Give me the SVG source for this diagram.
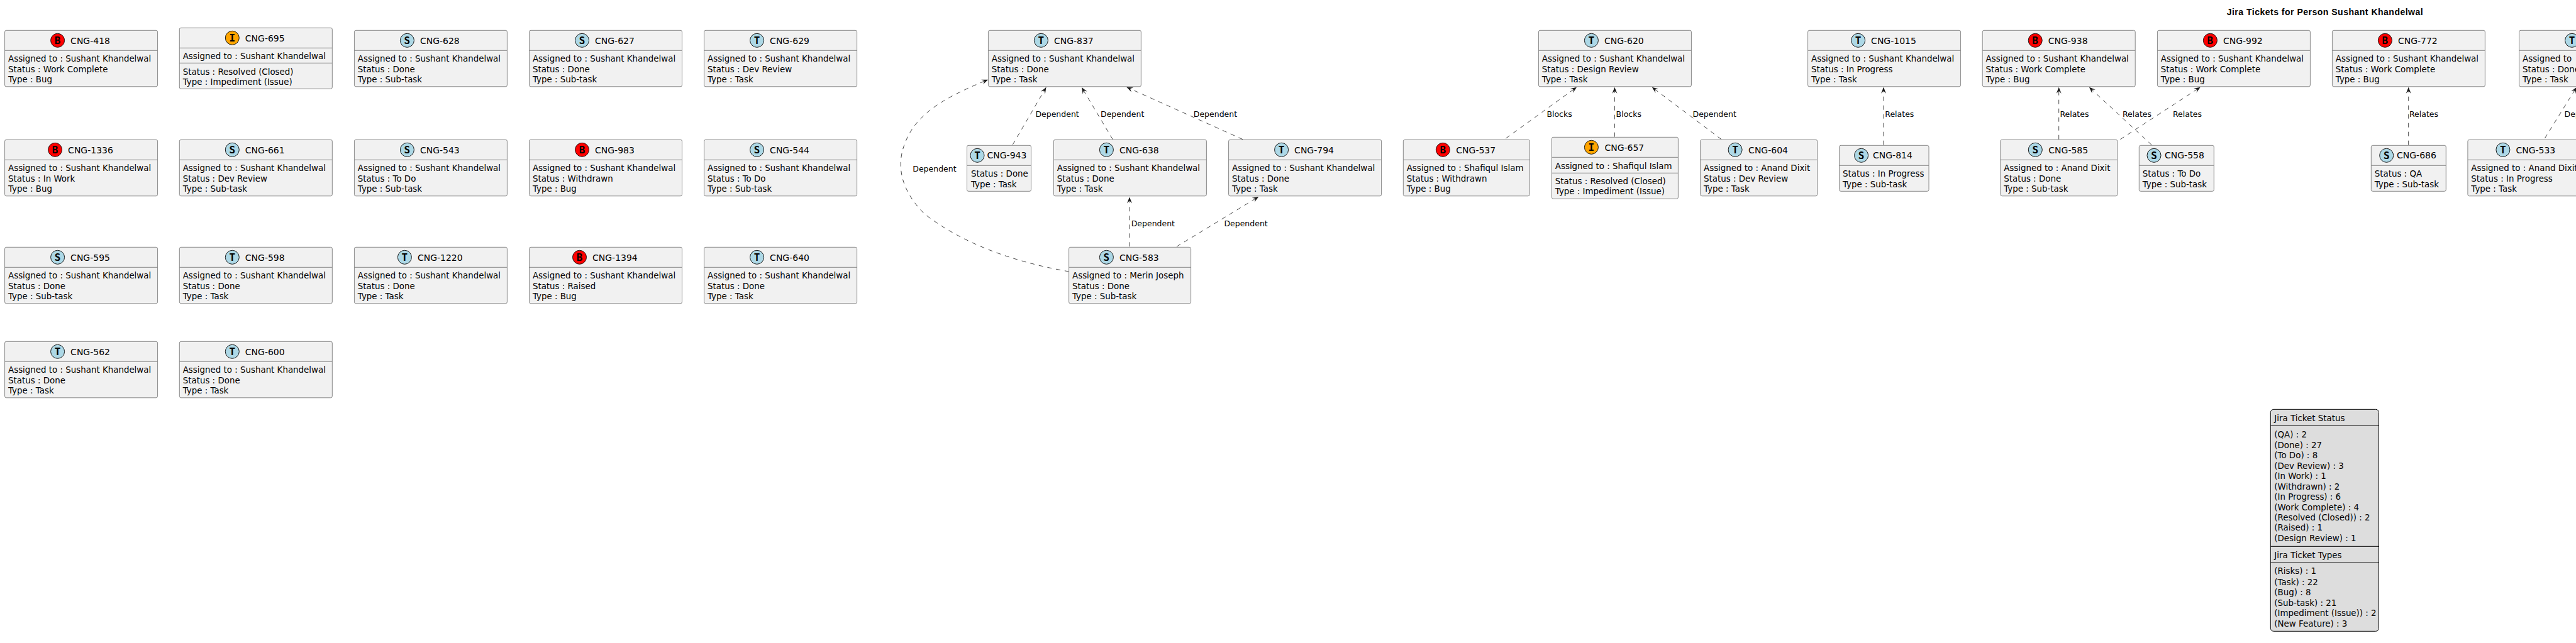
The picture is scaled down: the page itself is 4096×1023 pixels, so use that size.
<svg xmlns="http://www.w3.org/2000/svg" width="4096" height="1023" viewBox="0 0 4096 1023">
<style>
text{font-family:"DejaVu Sans","Liberation Sans",sans-serif;fill:#000}
.t{font-size:13.4px}
.n{font-size:14px}
.e{font-size:12.5px}
.h{font-family:"Liberation Sans",Arial,sans-serif;font-size:14px;font-weight:bold;letter-spacing:.5px}
.m{font-size:13.4px}
.l{font-family:"DejaVu Sans Mono","Liberation Mono",monospace;font-size:16px;font-weight:bold;text-anchor:middle}
.b{fill:#F1F1F1;stroke:#888;stroke-width:1}
.d{stroke:#888;stroke-width:1}
.cb{fill:#FF0000;stroke:#181818;stroke-width:1}
.ci{fill:#FFA500;stroke:#181818;stroke-width:1}
.cs{fill:#ADD8E6;stroke:#181818;stroke-width:1}
.c{fill:none;stroke:#181818;stroke-width:.8;stroke-dasharray:7 7;marker-end:url(#a)}
.lg{fill:#DDD;stroke:#000;stroke-width:1}
.ll{stroke:#000;stroke-width:1}
</style>
<defs>
<marker id="a" markerUnits="userSpaceOnUse" markerWidth="12" markerHeight="12" refX="11" refY="6" orient="auto" overflow="visible"><path d="M11,6 L1,2 L5,6 L1,10 Z" fill="#181818"/></marker>
</defs>
<rect width="4096" height="1023" fill="#fff"/>
<text class="h" x="3540.7" y="24">Jira Tickets for Person Sushant Khandelwal</text>

<g id="connectors">
<line class="c" x1="1610.3" y1="230" x2="1663.4" y2="139"/>
<line class="c" x1="1769.2" y1="221.7" x2="1720" y2="139"/>
<line class="c" x1="1975.9" y1="221.7" x2="1791.5" y2="138.7"/>
<path class="c" d="M1699.6,432 C1630,420 1540,395 1469.6,340 C1430,300 1425,260 1440,225 C1460,175 1515,150 1571,126.7"/>
<line class="c" x1="1796" y1="392.3" x2="1796" y2="313.5"/>
<line class="c" x1="1871" y1="392.3" x2="2001.3" y2="313"/>
<line class="c" x1="2394.6" y1="220" x2="2507" y2="138.7"/>
<line class="c" x1="2567.4" y1="217.7" x2="2567.4" y2="138.7"/>
<line class="c" x1="2737" y1="221.7" x2="2626.8" y2="138.7"/>
<line class="c" x1="2995" y1="230.7" x2="2995" y2="138.7"/>
<line class="c" x1="3273.7" y1="221.7" x2="3273.7" y2="138.7"/>
<line class="c" x1="3421.4" y1="230.7" x2="3321.9" y2="138.7"/>
<line class="c" x1="3371.4" y1="221.7" x2="3498.7" y2="138.7"/>
<line class="c" x1="3829.7" y1="230.7" x2="3829.7" y2="138.7"/>
<line class="c" x1="4046.4" y1="220" x2="4097" y2="138.7"/>
<text class="e" x="1646.4" y="185.7">Dependent</text>
<text class="e" x="1750" y="185.7">Dependent</text>
<text class="e" x="1897.8" y="185.7">Dependent</text>
<text class="e" x="1451.3" y="272.7">Dependent</text>
<text class="e" x="1798.7" y="359.7">Dependent</text>
<text class="e" x="1946.4" y="359.7">Dependent</text>
<text class="e" x="2459.4" y="185.7">Blocks</text>
<text class="e" x="2569.6" y="185.7">Blocks</text>
<text class="e" x="2691.5" y="185.7">Dependent</text>
<text class="e" x="2997.3" y="185.7">Relates</text>
<text class="e" x="3275.4" y="185.7">Relates</text>
<text class="e" x="3375" y="185.7">Relates</text>
<text class="e" x="3455" y="185.7">Relates</text>
<text class="e" x="3831" y="185.7">Relates</text>
<text class="e" x="4077.6" y="185.7">Dependent</text>
</g>

<g id="CNG-418" transform="translate(7.6,48.3)"><rect class="b" width="243" height="89.5" rx="2.5"/><line class="d" x2="243" y1="32" y2="32"/><circle class="cb" cx="84" cy="16" r="11"/><text class="l" x="84" y="21.8">B</text><text class="n" x="104.5" y="22">CNG-418</text><text class="t" x="5.4" y="50">Assigned to : Sushant Khandelwal</text><text class="t" x="5.4" y="66.5">Status : Work Complete</text><text class="t" x="5.4" y="83">Type : Bug</text></g>
<g id="CNG-695" transform="translate(285.3,44.3)"><rect class="b" width="243" height="97" rx="2.5"/><line class="d" x2="243" y1="32" y2="32"/><line class="d" x2="243" y1="56" y2="56"/><circle class="ci" cx="84" cy="16" r="11"/><text class="l" x="84" y="21.8">I</text><text class="n" x="104.5" y="22">CNG-695</text><text class="t" x="5.4" y="50">Assigned to : Sushant Khandelwal</text><text class="t" x="5.4" y="75">Status : Resolved (Closed)</text><text class="t" x="5.4" y="91">Type : Impediment (Issue)</text></g>
<g id="CNG-628" transform="translate(563.4,48.3)"><rect class="b" width="243" height="89.5" rx="2.5"/><line class="d" x2="243" y1="32" y2="32"/><circle class="cs" cx="84" cy="16" r="11"/><text class="l" x="84" y="21.8">S</text><text class="n" x="104.5" y="22">CNG-628</text><text class="t" x="5.4" y="50">Assigned to : Sushant Khandelwal</text><text class="t" x="5.4" y="66.5">Status : Done</text><text class="t" x="5.4" y="83">Type : Sub-task</text></g>
<g id="CNG-627" transform="translate(841.5,48.3)"><rect class="b" width="243" height="89.5" rx="2.5"/><line class="d" x2="243" y1="32" y2="32"/><circle class="cs" cx="84" cy="16" r="11"/><text class="l" x="84" y="21.8">S</text><text class="n" x="104.5" y="22">CNG-627</text><text class="t" x="5.4" y="50">Assigned to : Sushant Khandelwal</text><text class="t" x="5.4" y="66.5">Status : Done</text><text class="t" x="5.4" y="83">Type : Sub-task</text></g>
<g id="CNG-629" transform="translate(1119.6,48.3)"><rect class="b" width="243" height="89.5" rx="2.5"/><line class="d" x2="243" y1="32" y2="32"/><circle class="cs" cx="84" cy="16" r="11"/><text class="l" x="84" y="21.8">T</text><text class="n" x="104.5" y="22">CNG-629</text><text class="t" x="5.4" y="50">Assigned to : Sushant Khandelwal</text><text class="t" x="5.4" y="66.5">Status : Dev Review</text><text class="t" x="5.4" y="83">Type : Task</text></g>

<g id="CNG-1336" transform="translate(7.6,222.3)"><rect class="b" width="243" height="89.5" rx="2.5"/><line class="d" x2="243" y1="32" y2="32"/><circle class="cb" cx="80" cy="16" r="11"/><text class="l" x="80" y="21.8">B</text><text class="n" x="100.5" y="22">CNG-1336</text><text class="t" x="5.4" y="50">Assigned to : Sushant Khandelwal</text><text class="t" x="5.4" y="66.5">Status : In Work</text><text class="t" x="5.4" y="83">Type : Bug</text></g>
<g id="CNG-661" transform="translate(285.3,222.3)"><rect class="b" width="243" height="89.5" rx="2.5"/><line class="d" x2="243" y1="32" y2="32"/><circle class="cs" cx="84" cy="16" r="11"/><text class="l" x="84" y="21.8">S</text><text class="n" x="104.5" y="22">CNG-661</text><text class="t" x="5.4" y="50">Assigned to : Sushant Khandelwal</text><text class="t" x="5.4" y="66.5">Status : Dev Review</text><text class="t" x="5.4" y="83">Type : Sub-task</text></g>
<g id="CNG-543" transform="translate(563.4,222.3)"><rect class="b" width="243" height="89.5" rx="2.5"/><line class="d" x2="243" y1="32" y2="32"/><circle class="cs" cx="84" cy="16" r="11"/><text class="l" x="84" y="21.8">S</text><text class="n" x="104.5" y="22">CNG-543</text><text class="t" x="5.4" y="50">Assigned to : Sushant Khandelwal</text><text class="t" x="5.4" y="66.5">Status : To Do</text><text class="t" x="5.4" y="83">Type : Sub-task</text></g>
<g id="CNG-983" transform="translate(841.5,222.3)"><rect class="b" width="243" height="89.5" rx="2.5"/><line class="d" x2="243" y1="32" y2="32"/><circle class="cb" cx="84" cy="16" r="11"/><text class="l" x="84" y="21.8">B</text><text class="n" x="104.5" y="22">CNG-983</text><text class="t" x="5.4" y="50">Assigned to : Sushant Khandelwal</text><text class="t" x="5.4" y="66.5">Status : Withdrawn</text><text class="t" x="5.4" y="83">Type : Bug</text></g>
<g id="CNG-544" transform="translate(1119.6,222.3)"><rect class="b" width="243" height="89.5" rx="2.5"/><line class="d" x2="243" y1="32" y2="32"/><circle class="cs" cx="84" cy="16" r="11"/><text class="l" x="84" y="21.8">S</text><text class="n" x="104.5" y="22">CNG-544</text><text class="t" x="5.4" y="50">Assigned to : Sushant Khandelwal</text><text class="t" x="5.4" y="66.5">Status : To Do</text><text class="t" x="5.4" y="83">Type : Sub-task</text></g>

<g id="CNG-595" transform="translate(7.6,393.3)"><rect class="b" width="243" height="89.5" rx="2.5"/><line class="d" x2="243" y1="32" y2="32"/><circle class="cs" cx="84" cy="16" r="11"/><text class="l" x="84" y="21.8">S</text><text class="n" x="104.5" y="22">CNG-595</text><text class="t" x="5.4" y="50">Assigned to : Sushant Khandelwal</text><text class="t" x="5.4" y="66.5">Status : Done</text><text class="t" x="5.4" y="83">Type : Sub-task</text></g>
<g id="CNG-598" transform="translate(285.3,393.3)"><rect class="b" width="243" height="89.5" rx="2.5"/><line class="d" x2="243" y1="32" y2="32"/><circle class="cs" cx="84" cy="16" r="11"/><text class="l" x="84" y="21.8">T</text><text class="n" x="104.5" y="22">CNG-598</text><text class="t" x="5.4" y="50">Assigned to : Sushant Khandelwal</text><text class="t" x="5.4" y="66.5">Status : Done</text><text class="t" x="5.4" y="83">Type : Task</text></g>
<g id="CNG-1220" transform="translate(563.4,393.3)"><rect class="b" width="243" height="89.5" rx="2.5"/><line class="d" x2="243" y1="32" y2="32"/><circle class="cs" cx="80" cy="16" r="11"/><text class="l" x="80" y="21.8">T</text><text class="n" x="100.5" y="22">CNG-1220</text><text class="t" x="5.4" y="50">Assigned to : Sushant Khandelwal</text><text class="t" x="5.4" y="66.5">Status : Done</text><text class="t" x="5.4" y="83">Type : Task</text></g>
<g id="CNG-1394" transform="translate(841.5,393.3)"><rect class="b" width="243" height="89.5" rx="2.5"/><line class="d" x2="243" y1="32" y2="32"/><circle class="cb" cx="80" cy="16" r="11"/><text class="l" x="80" y="21.8">B</text><text class="n" x="100.5" y="22">CNG-1394</text><text class="t" x="5.4" y="50">Assigned to : Sushant Khandelwal</text><text class="t" x="5.4" y="66.5">Status : Raised</text><text class="t" x="5.4" y="83">Type : Bug</text></g>
<g id="CNG-640" transform="translate(1119.6,393.3)"><rect class="b" width="243" height="89.5" rx="2.5"/><line class="d" x2="243" y1="32" y2="32"/><circle class="cs" cx="84" cy="16" r="11"/><text class="l" x="84" y="21.8">T</text><text class="n" x="104.5" y="22">CNG-640</text><text class="t" x="5.4" y="50">Assigned to : Sushant Khandelwal</text><text class="t" x="5.4" y="66.5">Status : Done</text><text class="t" x="5.4" y="83">Type : Task</text></g>

<g id="CNG-562" transform="translate(7.6,543.3)"><rect class="b" width="243" height="89.5" rx="2.5"/><line class="d" x2="243" y1="32" y2="32"/><circle class="cs" cx="84" cy="16" r="11"/><text class="l" x="84" y="21.8">T</text><text class="n" x="104.5" y="22">CNG-562</text><text class="t" x="5.4" y="50">Assigned to : Sushant Khandelwal</text><text class="t" x="5.4" y="66.5">Status : Done</text><text class="t" x="5.4" y="83">Type : Task</text></g>
<g id="CNG-600" transform="translate(285.3,543.3)"><rect class="b" width="243" height="89.5" rx="2.5"/><line class="d" x2="243" y1="32" y2="32"/><circle class="cs" cx="84" cy="16" r="11"/><text class="l" x="84" y="21.8">T</text><text class="n" x="104.5" y="22">CNG-600</text><text class="t" x="5.4" y="50">Assigned to : Sushant Khandelwal</text><text class="t" x="5.4" y="66.5">Status : Done</text><text class="t" x="5.4" y="83">Type : Task</text></g>

<g id="CNG-837" transform="translate(1571.4,48.3)"><rect class="b" width="243" height="89.5" rx="2.5"/><line class="d" x2="243" y1="32" y2="32"/><circle class="cs" cx="84" cy="16" r="11"/><text class="l" x="84" y="21.8">T</text><text class="n" x="104.5" y="22">CNG-837</text><text class="t" x="5.4" y="50">Assigned to : Sushant Khandelwal</text><text class="t" x="5.4" y="66.5">Status : Done</text><text class="t" x="5.4" y="83">Type : Task</text></g>
<g id="CNG-943" transform="translate(1537.5,231.3)"><rect class="b" width="102" height="73" rx="2.5"/><line class="d" x2="102" y1="32" y2="32"/><circle class="cs" cx="16.5" cy="16" r="11"/><text class="l" x="16.5" y="21.8">T</text><text class="n" x="32" y="21">CNG-943</text><text class="t" x="6.4" y="50">Status : Done</text><text class="t" x="6.4" y="66.5">Type : Task</text></g>
<g id="CNG-638" transform="translate(1675.4,222.3)"><rect class="b" width="243" height="89.5" rx="2.5"/><line class="d" x2="243" y1="32" y2="32"/><circle class="cs" cx="84" cy="16" r="11"/><text class="l" x="84" y="21.8">T</text><text class="n" x="104.5" y="22">CNG-638</text><text class="t" x="5.4" y="50">Assigned to : Sushant Khandelwal</text><text class="t" x="5.4" y="66.5">Status : Done</text><text class="t" x="5.4" y="83">Type : Task</text></g>
<g id="CNG-794" transform="translate(1953.6,222.3)"><rect class="b" width="243" height="89.5" rx="2.5"/><line class="d" x2="243" y1="32" y2="32"/><circle class="cs" cx="84" cy="16" r="11"/><text class="l" x="84" y="21.8">T</text><text class="n" x="104.5" y="22">CNG-794</text><text class="t" x="5.4" y="50">Assigned to : Sushant Khandelwal</text><text class="t" x="5.4" y="66.5">Status : Done</text><text class="t" x="5.4" y="83">Type : Task</text></g>
<g id="CNG-583" transform="translate(1699.6,393.3)"><rect class="b" width="194" height="89.5" rx="2.5"/><line class="d" x2="194" y1="32" y2="32"/><circle class="cs" cx="59.8" cy="16" r="11"/><text class="l" x="59.8" y="21.8">S</text><text class="n" x="80.3" y="22">CNG-583</text><text class="t" x="5.4" y="50">Assigned to : Merin Joseph</text><text class="t" x="5.4" y="66.5">Status : Done</text><text class="t" x="5.4" y="83">Type : Sub-task</text></g>

<g id="CNG-620" transform="translate(2446.4,48.3)"><rect class="b" width="243" height="89.5" rx="2.5"/><line class="d" x2="243" y1="32" y2="32"/><circle class="cs" cx="84" cy="16" r="11"/><text class="l" x="84" y="21.8">T</text><text class="n" x="104.5" y="22">CNG-620</text><text class="t" x="5.4" y="50">Assigned to : Sushant Khandelwal</text><text class="t" x="5.4" y="66.5">Status : Design Review</text><text class="t" x="5.4" y="83">Type : Task</text></g>
<g id="CNG-537" transform="translate(2231.3,222.3)"><rect class="b" width="201" height="89.5" rx="2.5"/><line class="d" x2="201" y1="32" y2="32"/><circle class="cb" cx="63" cy="16" r="11"/><text class="l" x="63" y="21.8">B</text><text class="n" x="84" y="22">CNG-537</text><text class="t" x="5.4" y="50">Assigned to : Shafiqul Islam</text><text class="t" x="5.4" y="66.5">Status : Withdrawn</text><text class="t" x="5.4" y="83">Type : Bug</text></g>
<g id="CNG-657" transform="translate(2467.4,218.3)"><rect class="b" width="201" height="98" rx="2.5"/><line class="d" x2="201" y1="32" y2="32"/><line class="d" x2="201" y1="57" y2="57"/><circle class="ci" cx="63" cy="16" r="11"/><text class="l" x="63" y="21.8">I</text><text class="n" x="84" y="22">CNG-657</text><text class="t" x="5.4" y="50.3">Assigned to : Shafiqul Islam</text><text class="t" x="5.4" y="75">Status : Resolved (Closed)</text><text class="t" x="5.4" y="91">Type : Impediment (Issue)</text></g>
<g id="CNG-604" transform="translate(2703.6,222.3)"><rect class="b" width="186" height="89.5" rx="2.5"/><line class="d" x2="186" y1="32" y2="32"/><circle class="cs" cx="55.5" cy="16" r="11"/><text class="l" x="55.5" y="21.8">T</text><text class="n" x="76.5" y="22">CNG-604</text><text class="t" x="5.4" y="50">Assigned to : Anand Dixit</text><text class="t" x="5.4" y="66.5">Status : Dev Review</text><text class="t" x="5.4" y="83">Type : Task</text></g>

<g id="CNG-1015" transform="translate(2874.6,48.3)"><rect class="b" width="243" height="89.5" rx="2.5"/><line class="d" x2="243" y1="32" y2="32"/><circle class="cs" cx="80" cy="16" r="11"/><text class="l" x="80" y="21.8">T</text><text class="n" x="100.5" y="22">CNG-1015</text><text class="t" x="5.4" y="50">Assigned to : Sushant Khandelwal</text><text class="t" x="5.4" y="66.5">Status : In Progress</text><text class="t" x="5.4" y="83">Type : Task</text></g>
<g id="CNG-814" transform="translate(2924.6,231.3)"><rect class="b" width="142.4" height="73" rx="2.5"/><line class="d" x2="142.4" y1="32" y2="32"/><circle class="cs" cx="35" cy="16" r="11"/><text class="l" x="35" y="21.8">S</text><text class="n" x="53.4" y="21">CNG-814</text><text class="t" x="5.4" y="50">Status : In Progress</text><text class="t" x="5.4" y="66.5">Type : Sub-task</text></g>
<g id="CNG-938" transform="translate(3152.2,48.3)"><rect class="b" width="243" height="89.5" rx="2.5"/><line class="d" x2="243" y1="32" y2="32"/><circle class="cb" cx="84" cy="16" r="11"/><text class="l" x="84" y="21.8">B</text><text class="n" x="104.5" y="22">CNG-938</text><text class="t" x="5.4" y="50">Assigned to : Sushant Khandelwal</text><text class="t" x="5.4" y="66.5">Status : Work Complete</text><text class="t" x="5.4" y="83">Type : Bug</text></g>
<g id="CNG-992" transform="translate(3430.4,48.3)"><rect class="b" width="243" height="89.5" rx="2.5"/><line class="d" x2="243" y1="32" y2="32"/><circle class="cb" cx="84" cy="16" r="11"/><text class="l" x="84" y="21.8">B</text><text class="n" x="104.5" y="22">CNG-992</text><text class="t" x="5.4" y="50">Assigned to : Sushant Khandelwal</text><text class="t" x="5.4" y="66.5">Status : Work Complete</text><text class="t" x="5.4" y="83">Type : Bug</text></g>
<g id="CNG-585" transform="translate(3180.8,222.3)"><rect class="b" width="186" height="89.5" rx="2.5"/><line class="d" x2="186" y1="32" y2="32"/><circle class="cs" cx="55.5" cy="16" r="11"/><text class="l" x="55.5" y="21.8">S</text><text class="n" x="76.5" y="22">CNG-585</text><text class="t" x="5.4" y="50">Assigned to : Anand Dixit</text><text class="t" x="5.4" y="66.5">Status : Done</text><text class="t" x="5.4" y="83">Type : Sub-task</text></g>
<g id="CNG-558" transform="translate(3401.3,231.3)"><rect class="b" width="119" height="73" rx="2.5"/><line class="d" x2="119" y1="32" y2="32"/><circle class="cs" cx="23.7" cy="16" r="11"/><text class="l" x="23.7" y="21.8">S</text><text class="n" x="40.7" y="21">CNG-558</text><text class="t" x="5.4" y="50">Status : To Do</text><text class="t" x="5.4" y="66.5">Type : Sub-task</text></g>
<g id="CNG-772" transform="translate(3708.4,48.3)"><rect class="b" width="243" height="89.5" rx="2.5"/><line class="d" x2="243" y1="32" y2="32"/><circle class="cb" cx="84" cy="16" r="11"/><text class="l" x="84" y="21.8">B</text><text class="n" x="104.5" y="22">CNG-772</text><text class="t" x="5.4" y="50">Assigned to : Sushant Khandelwal</text><text class="t" x="5.4" y="66.5">Status : Work Complete</text><text class="t" x="5.4" y="83">Type : Bug</text></g>
<g id="CNG-686" transform="translate(3770.3,231.3)"><rect class="b" width="119" height="73" rx="2.5"/><line class="d" x2="119" y1="32" y2="32"/><circle class="cs" cx="24.4" cy="16" r="11"/><text class="l" x="24.4" y="21.8">S</text><text class="n" x="40.7" y="21">CNG-686</text><text class="t" x="5.4" y="50">Status : QA</text><text class="t" x="5.4" y="66.5">Type : Sub-task</text></g>
<g id="node-right-edge" transform="translate(4005.6,48.3)"><rect class="b" width="243" height="89.5" rx="2.5"/><line class="d" x2="243" y1="32" y2="32"/><circle class="cs" cx="84" cy="16" r="11"/><text class="l" x="84" y="21.8">T</text><text class="t" x="5.4" y="50">Assigned to</text><text class="t" x="5.4" y="66.5">Status : Done</text><text class="t" x="5.4" y="83">Type : Task</text></g>
<g id="CNG-533" transform="translate(3923.9,222.3)"><rect class="b" width="186" height="89.5" rx="2.5"/><line class="d" x2="186" y1="32" y2="32"/><circle class="cs" cx="56" cy="16" r="11"/><text class="l" x="56" y="21.8">T</text><text class="n" x="76.5" y="22">CNG-533</text><text class="t" x="5.4" y="50">Assigned to : Anand Dixit</text><text class="t" x="5.4" y="66.5">Status : In Progress</text><text class="t" x="5.4" y="83">Type : Task</text></g>

<g id="legend">
<rect class="lg" x="3610.3" y="651.3" width="172.2" height="353" rx="5"/>
<line class="ll" x1="3610.3" x2="3782.5" y1="677.3" y2="677.3"/>
<line class="ll" x1="3610.3" x2="3782.5" y1="869.3" y2="869.3"/>
<line class="ll" x1="3610.3" x2="3782.5" y1="895.3" y2="895.3"/>
<text class="m" x="3616.3" y="670">Jira Ticket Status</text>
<text class="m" x="3616.3" y="695.7">(QA) : 2</text>
<text class="m" x="3616.3" y="712.7">(Done) : 27</text>
<text class="m" x="3616.3" y="729">(To Do) : 8</text>
<text class="m" x="3616.3" y="745.7">(Dev Review) : 3</text>
<text class="m" x="3616.3" y="761.7">(In Work) : 1</text>
<text class="m" x="3616.3" y="778.7">(Withdrawn) : 2</text>
<text class="m" x="3616.3" y="795">(In Progress) : 6</text>
<text class="m" x="3616.3" y="811.7">(Work Complete) : 4</text>
<text class="m" x="3616.3" y="827.7">(Resolved (Closed)) : 2</text>
<text class="m" x="3616.3" y="844.3">(Raised) : 1</text>
<text class="m" x="3616.3" y="860.7">(Design Review) : 1</text>
<text class="m" x="3616.3" y="888">Jira Ticket Types</text>
<text class="m" x="3616.3" y="913.3">(Risks) : 1</text>
<text class="m" x="3616.3" y="930.7">(Task) : 22</text>
<text class="m" x="3616.3" y="946.7">(Bug) : 8</text>
<text class="m" x="3616.3" y="963.7">(Sub-task) : 21</text>
<text class="m" x="3616.3" y="979.7">(Impediment (Issue)) : 2</text>
<text class="m" x="3616.3" y="996.7">(New Feature) : 3</text>
</g>
</svg>
